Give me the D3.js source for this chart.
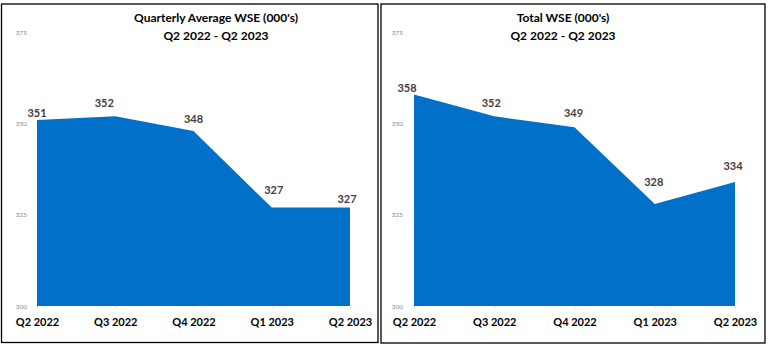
<!DOCTYPE html>
<html>
<head>
<meta charset="utf-8">
<script src="https://cdn.jsdelivr.net/npm/d3@7"></script>
<style>
  html, body { margin: 0; padding: 0; background: #fff; }
  svg { display: block; }
</style>
</head>
<body>
<svg id="chart" width="771" height="348"></svg>
<script>
// ---- data ----
const categories = ["Q2 2022", "Q3 2022", "Q4 2022", "Q1 2023", "Q2 2023"];
const avgWSE = [351, 352, 348, 327, 327];
const totalWSE = [358, 352, 349, 328, 334];
const yTicks = [300, 325, 350, 375];
const yDomain = [300, 375];
const titleAvg = ["Quarterly Average WSE (000's)", "Q2 2022 - Q2 2023"];
const titleTotal = ["Total WSE (000's)", "Q2 2022 - Q2 2023"];

// label nudges (layout, not data)
const avgLabelDx = [0, -11, 0, 2, -3];
const avgLabelDy = [-3, -9, -8, -13.5, -4.5];
const totalLabelDx = [-7, -3, -1, -1, -2];
const totalLabelDy = [-2.5, -9, -10, -18, -12];

const svg = d3.select("#chart");
const font = "Lato, 'Open Sans', sans-serif";
const blue = "#0070C8";

function panel(cfg) {
  const g = svg.append("g");
  g.append("rect")
    .attr("x", cfg.box[0]).attr("y", cfg.box[1])
    .attr("width", cfg.box[2]).attr("height", cfg.box[3])
    .attr("fill", "#fff").attr("stroke", "#000").attr("stroke-width", 1.3);

  const x = d3.scalePoint().domain(categories).range(cfg.xr);
  const y = d3.scaleLinear().domain(yDomain).range([306, 32.5]);

  const area = d3.area()
    .x((d, i) => x(categories[i]))
    .y0(y(yDomain[0]))
    .y1(d => y(d));
  g.append("path").datum(cfg.values).attr("d", area).attr("fill", blue);

  // y axis labels (no line)
  const ya = d3.axisLeft(y).tickValues(yTicks).tickSize(0).tickPadding(0);
  const yg = g.append("g").attr("transform", `translate(${cfg.yLabelX},0)`).call(ya);
  yg.select(".domain").remove();
  yg.selectAll("text").attr("font-family", font).attr("font-size", 6.5)
    .attr("fill", "#8c8c8c");

  // x axis
  const xa = d3.axisBottom(x).tickSize(2).tickPadding(10);
  const xg = g.append("g").attr("transform", `translate(0,${y(yDomain[0])})`).call(xa);
  xg.select(".domain").remove();
  xg.selectAll(".tick line").attr("stroke", "#d9d9d9");
  xg.selectAll("text").attr("font-family", font).attr("font-size", 11)
    .attr("font-weight", "bold").attr("fill", "#000");

  // value labels
  g.selectAll(".vlab").data(cfg.values).join("text")
    .attr("class", "vlab")
    .attr("x", (d, i) => x(categories[i]) + cfg.dx[i])
    .attr("y", (d, i) => y(d) + cfg.dy[i])
    .attr("text-anchor", "middle")
    .attr("font-family", font).attr("font-size", 11).attr("font-weight", "bold")
    .attr("fill", "#404040")
    .text(d => d);

  // title
  g.selectAll(".title").data(cfg.title).join("text")
    .attr("x", cfg.titleX).attr("y", (d, i) => 22 + i * 17.5)
    .attr("text-anchor", "middle")
    .attr("font-family", font).attr("font-size", 12).attr("font-weight", "bold")
    .attr("fill", "#000")
    .text(d => d);
}

panel({
  box: [1.5, 4, 376.5, 338.5], xr: [37, 350], yLabelX: 27,
  values: avgWSE, dx: avgLabelDx, dy: avgLabelDy, title: titleAvg, titleX: 216
});
panel({
  box: [381, 4, 384, 339], xr: [414, 735], yLabelX: 403,
  values: totalWSE, dx: totalLabelDx, dy: totalLabelDy, title: titleTotal, titleX: 563
});
</script>
</body>
</html>
